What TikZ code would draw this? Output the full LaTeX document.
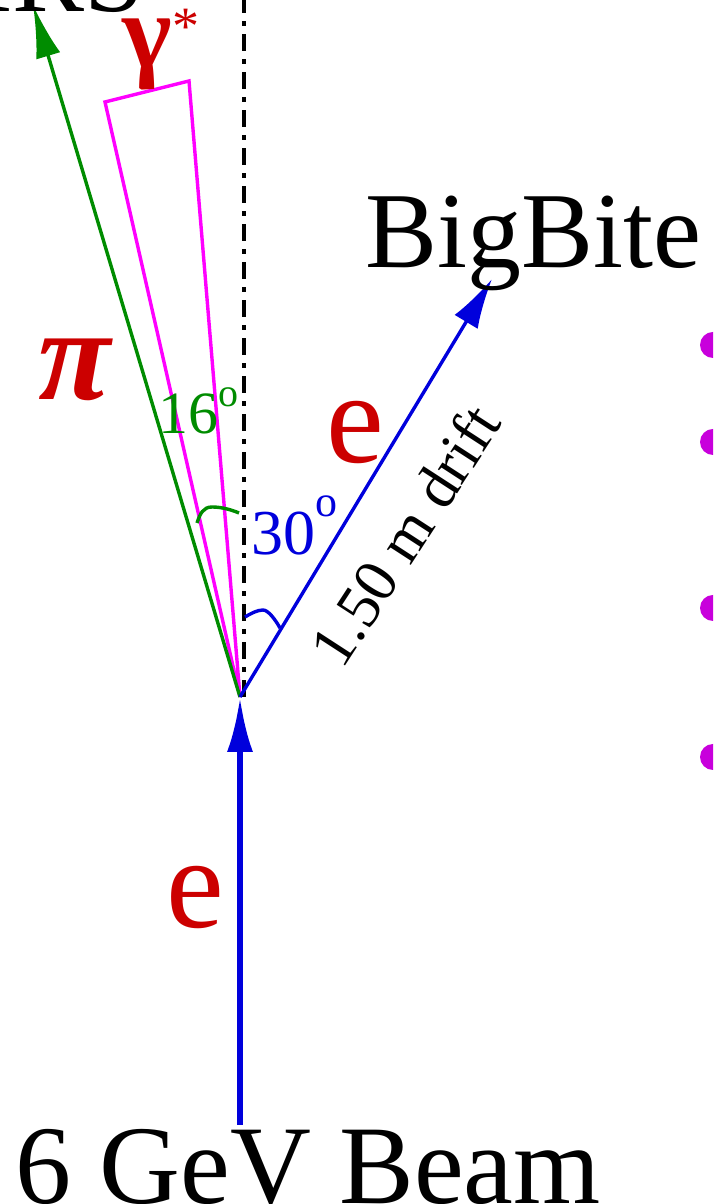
\documentclass[tikz,border=0pt]{standalone}
\usepackage{fontspec}
\setmainfont{Liberation Serif}
\usetikzlibrary{arrows.meta}
\definecolor{pred}{RGB}{204,0,0}
\definecolor{pgreen}{RGB}{0,140,0}
\definecolor{pblue}{RGB}{0,0,220}
\definecolor{pmag}{RGB}{255,0,255}
\definecolor{pbul}{RGB}{200,0,220}
\begin{document}
\begin{tikzpicture}[x=1pt,y=1pt,
  lbl/.style={inner sep=0pt, outer sep=0pt},
  thinline/.style={line width=3.4pt},
  bigtext/.style={lbl, font=\fontsize{108}{120}\selectfont},
  redlbl/.style={lbl, text=pred},
  bullet/.style={fill=pbul, draw=none}]
\clip (0,0) rectangle (713,1204);
% key points
\coordinate (V) at (240,507);
\coordinate (Vd) at (244,507);
\coordinate (beamstart) at (240,79);
\coordinate (bbtip) at (492,925);
\coordinate (hrstip) at (33,1199);
\coordinate (dtop) at (244,1210);
\coordinate (wl) at (105,1102);
\coordinate (wr) at (189,1123);
% dash-dot axis
\draw[black, line width=3.5pt, dash pattern=on 17pt off 8pt on 5pt off 8pt] (Vd) -- (dtop);
% incoming beam
\draw[pblue, line width=6pt, -{Latex[length=55pt,width=26pt]}] (beamstart) -- (V);
% virtual photon wedge
\draw[pmag, thinline, line join=miter] (V) -- (wl) -- (wr) -- cycle;
% pion to HRS
\draw[pgreen, thinline, -{Latex[length=53pt,width=25pt]}] (V) -- (hrstip);
% scattered electron to BigBite
\draw[pblue, thinline, -{Latex[length=50pt,width=27pt]}] (V) -- (bbtip);
% angle marks
\draw[pgreen, thinline] (197,681) .. controls (200,690) and (203,697) .. (212,697) .. controls (222,697) and (232,694) .. (239,691);
\draw[pblue, thinline] (245,587) .. controls (250,590) and (257,594) .. (263,594) .. controls (268,594) and (275,585) .. (280,576);
% labels
\node[bigtext, anchor=base east] (hrs) at (145,1192) {HRS};
\node[bigtext, anchor=base west] (bb) at (365,936) {BigBite};
\node[lbl, anchor=base west, font=\fontsize{112}{120}\selectfont] (beam) at (16,1) {6 GeV Beam};
\node[redlbl, font=\fontsize{132}{140}\selectfont\bfseries\itshape] (pi) at (75,834) {π};
\node[redlbl, font=\fontsize{106}{120}\selectfont\bfseries] (gam) at (147,1150) {γ};
\node[redlbl, font=\fontsize{54}{60}\selectfont] (star) at (186,1177) {*};
\node[redlbl, font=\fontsize{130}{140}\selectfont] (eout) at (355,771) {e};
\node[redlbl, font=\fontsize{130}{140}\selectfont] (ein) at (195,306) {e};
\node[lbl, text=pgreen, anchor=base west, font=\fontsize{60}{70}\selectfont] (a16) at (158,770) {16\raisebox{27pt}{\fontsize{40}{40}\selectfont o}};
\node[lbl, text=pblue, anchor=base west, font=\fontsize{64}{70}\selectfont] (a30) at (251,649) {30\raisebox{38pt}{\fontsize{44}{44}\selectfont o}};
\node[lbl, rotate=57, font=\fontsize{62}{70}\selectfont] (drift) at (405,669) {1.50 m drift};
% bullets of the cut-off list
\fill[bullet] (713,859) circle (13);
\fill[bullet] (713,762) circle (13);
\fill[bullet] (713,596) circle (13);
\fill[bullet] (713,447) circle (13);
\end{tikzpicture}
\end{document}
